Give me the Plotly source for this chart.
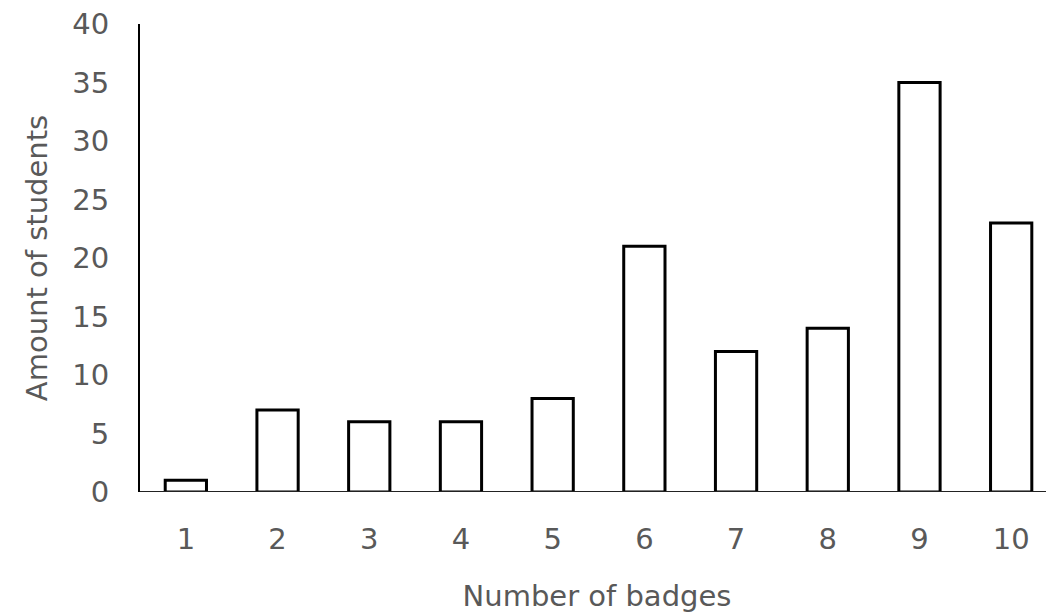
import plotly.graph_objects as go

badges = [1, 2, 3, 4, 5, 6, 7, 8, 9, 10]
students = [1, 7, 6, 6, 8, 21, 12, 14, 35, 23]
y_ticks = [0, 5, 10, 15, 20, 25, 30, 35, 40]

FONT = "DejaVu Sans"
GRAY = "#595959"
FS = 29

fig = go.Figure(go.Bar(
    x=badges, y=students, width=0.45,
    marker=dict(color="white", line=dict(color="black", width=3)),
))

# page body has an 8px default margin; compensate so the plot lands where the reference has it
fig.update_layout(
    width=1046, height=605,
    margin=dict(l=132, r=0, t=16, b=121),
    plot_bgcolor="white", paper_bgcolor="white",
    showlegend=False,
    font=dict(family=FONT, color=GRAY, size=FS),
    xaxis=dict(
        range=[0.5, 10.467], tickmode="array", tickvals=badges,
        ticktext=[str(b) for b in badges],
        showgrid=False, zeroline=False, showline=False, ticks="",
        tickfont=dict(size=FS, color=GRAY),
        ticklabelstandoff=27, automargin=False, ticklabeloverflow="allow",
        title=dict(text="Number of badges", font=dict(size=FS, color=GRAY), standoff=31),
    ),
    yaxis=dict(
        range=[0, 40], tickvals=y_ticks,
        showgrid=False, zeroline=False,
        showline=True, linecolor="black", linewidth=2,
        ticks="", tickfont=dict(size=FS, color=GRAY),
        ticklabelstandoff=23, automargin=False, ticklabeloverflow="allow",
        title=dict(text="Amount of students", font=dict(size=FS, color=GRAY), standoff=16),
    ),
)

fig.add_shape(type="line", xref="paper", yref="y", x0=0, x1=1, y0=0, y1=0,
              line=dict(color="#222222", width=2))

fig.write_html("out.html")
